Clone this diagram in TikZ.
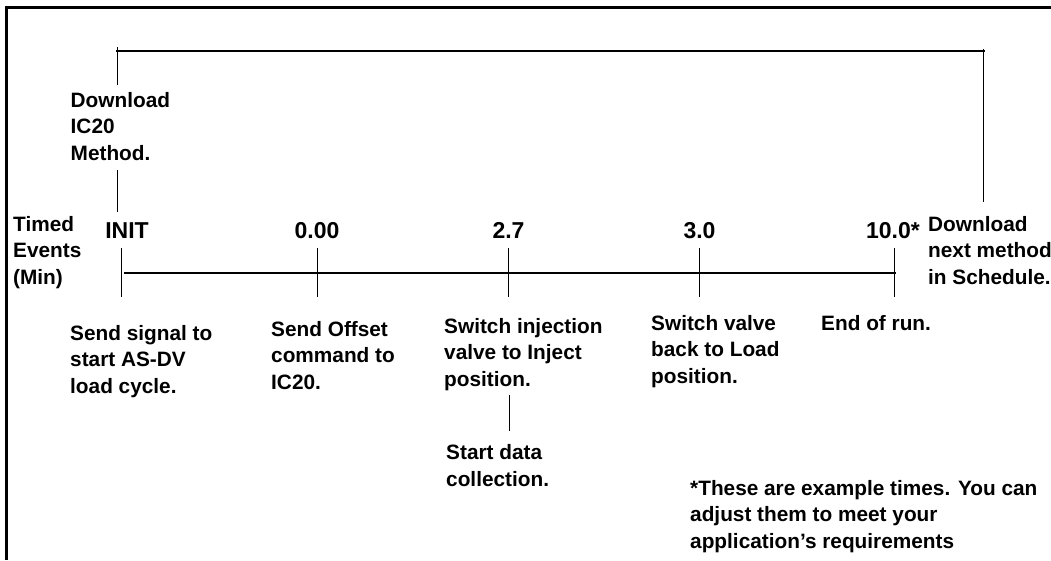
\documentclass[tikz,border=0pt]{standalone}
\usepackage{fontspec}
\setmainfont{Liberation Sans}
\begin{document}
\begin{tikzpicture}[x=1pt,y=-1pt,
  txt/.style={anchor=base west, inner sep=0pt, align=left, font=\fontsize{20.8}{26.7}\selectfont\bfseries},
  num/.style={anchor=base, inner sep=0pt, font=\fontsize{23}{27}\selectfont\bfseries},
  ln/.style={line width=1pt},
  axis/.style={line width=1.3pt},
  frame/.style={line width=3.5pt}]
\useasboundingbox (0,0) rectangle (1051,560);
% frame (cut at right and bottom)
\coordinate (fb) at (6.5,560);
\coordinate (ftl) at (6.5,7.5);
\coordinate (ftr) at (1051,7.5);
\draw[frame] (fb) -- (ftl) -- (ftr);
% top labels (anchor at baseline of last line)
\node[txt] (dl) at (70.5,160.5) {Download\\IC20\\Method.};
\node[txt] (te) at (13,284.5) {Timed\\Events\\(Min)};
\node[num] (init) at (127,238) {INIT};
\node[num] (t0) at (317,238) {0.00};
\node[num] (t27) at (508.5,238) {2.7};
\node[num] (t30) at (699.5,238) {3.0};
\node[num] (t10) at (893,238) {10.0*};
\node[txt] (dn) at (928,284.5) {Download\\next method\\in Schedule.};
% top bracket
\coordinate (bl1) at (117.5,47);
\coordinate (bl2) at (117.5,85);
\coordinate (bh1) at (116,51);
\coordinate (bh2) at (985,51);
\coordinate (br1) at (983.5,49);
\coordinate (br2) at (983.5,202);
\coordinate (il1) at (117.5,170);
\coordinate (il2) at (117.5,212);
\draw[ln] (bl1) -- (bl2);
\draw[axis] (bh1) -- (bh2);
\draw[ln] (br1) -- (br2);
\draw[ln] (il1) -- (il2);
% timeline
\coordinate (a1) at (124,273);
\coordinate (a2) at (895.5,273);
\draw[axis] (a1) -- (a2);
\foreach \n/\x in {k0/121.7,k1/317,k2/508.7,k3/699.7,k4/894.6}{
  \coordinate (\n t) at (\x,248);
  \coordinate (\n b) at (\x,297);
  \draw[ln] (\n t) -- (\n b);
}
% bottom labels
\node[txt] (b1) at (70,393.4) {Send signal to\\start AS-DV\\load cycle.};
\node[txt] (b2) at (271,389.4) {Send Offset\\command to\\IC20.};
\node[txt] (b3) at (444,386.4) {Switch injection\\valve to Inject\\position.};
\node[txt] (b4) at (651,383.4) {Switch valve\\back to Load\\position.};
\node[txt] (b5) at (821,330) {End of run.};
\coordinate (s1) at (509.3,395);
\coordinate (s2) at (509.3,431);
\draw[ln] (s1) -- (s2);
\node[txt] (sd) at (446,486) {Start data\\collection.};
\node[txt] (fn) at (690,548.4) {*These are example times. You can\\adjust them to meet your\\application’s requirements};
\end{tikzpicture}
\end{document}
